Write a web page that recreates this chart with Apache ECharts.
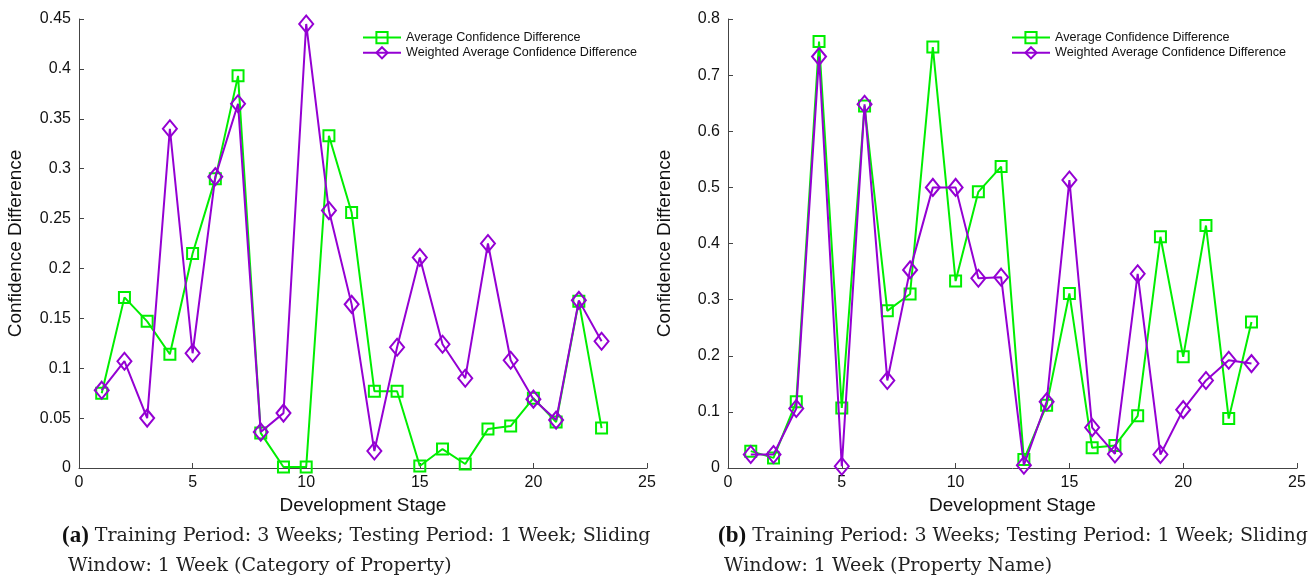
<!DOCTYPE html>
<html>
<head>
<meta charset="utf-8">
<script src="https://cdn.jsdelivr.net/npm/echarts@6/dist/echarts.min.js"></script>
<style>
html,body{margin:0;padding:0;background:#fff;}
#main{width:1309px;height:578px;}
</style>
</head>
<body>
<div id="main"></div>
<script>
// development stages 1..23
var stages = [1,2,3,4,5,6,7,8,9,10,11,12,13,14,15,16,17,18,19,20,21,22,23];

// (a) Category of Property
var avgA = [0.075,0.171,0.147,0.114,0.215,0.29,0.393,0.035,0.001,0.001,0.333,0.256,0.077,0.077,0.002,0.019,0.004,0.039,0.042,0.07,0.046,0.167,0.04];
var wavgA = [0.078,0.107,0.05,0.34,0.115,0.292,0.365,0.036,0.055,0.445,0.258,0.164,0.017,0.121,0.211,0.124,0.09,0.225,0.108,0.069,0.048,0.168,0.127];

// (b) Property Name
var avgB = [0.03,0.018,0.118,0.76,0.107,0.645,0.28,0.31,0.75,0.333,0.492,0.537,0.015,0.112,0.311,0.036,0.04,0.093,0.412,0.198,0.432,0.088,0.26];
var wavgB = [0.024,0.024,0.106,0.733,0.003,0.648,0.156,0.353,0.5,0.5,0.338,0.34,0.005,0.118,0.513,0.072,0.025,0.346,0.024,0.104,0.156,0.192,0.186];

var nameAvg = 'Average Confidence Difference';
var nameWavg = 'Weighted Average Confidence Difference';
var green = '#00ee00', purple = '#9400d3';
var sans = '"Liberation Sans", Arial, sans-serif';
var serif = '"DejaVu Serif", serif';

function pairs(ys){
	var out=[];
	for(var i=0;i<stages.length;i++) out.push([stages[i],ys[i]]);
	return out;
}

function xAx(idx){
	return {
		gridIndex: idx, type:'value', min:0, max:25, interval:5,
		name:'Development Stage', nameLocation:'middle', nameGap:27,
		nameTextStyle:{fontFamily:sans,fontSize:19,color:'#111'},
		axisLine:{lineStyle:{color:'#444',width:1}},
		axisTick:{inside:true,length:5,lineStyle:{color:'#444'}},
		axisLabel:{fontFamily:sans,fontSize:16,color:'#111',margin:7},
		splitLine:{show:false}
	};
}
function yAx(idx,max,step){
	return {
		gridIndex: idx, type:'value', min:0, max:max, interval:step,
		name:'Confidence Difference', nameLocation:'middle', nameGap:54,
		nameTextStyle:{fontFamily:sans,fontSize:19,color:'#111'},
		axisLine:{show:true,lineStyle:{color:'#444',width:1}},
		axisTick:{show:true,inside:true,length:5,lineStyle:{color:'#444'}},
		axisLabel:{fontFamily:sans,fontSize:16,color:'#111',margin:8},
		splitLine:{show:false}
	};
}
function avgSeries(idx,ys){
	return {
		name:nameAvg, type:'line', xAxisIndex:idx, yAxisIndex:idx, data:pairs(ys),
		symbol:'rect', symbolSize:11, showAllSymbol:true,
		lineStyle:{color:green,width:2},
		itemStyle:{color:'rgba(0,0,0,0)',borderColor:green,borderWidth:2},
		animation:false, z:2
	};
}
function wavgSeries(idx,ys){
	return {
		name:nameWavg, type:'line', xAxisIndex:idx, yAxisIndex:idx, data:pairs(ys),
		symbol:'diamond', symbolSize:[14,17], showAllSymbol:true,
		lineStyle:{color:purple,width:2},
		itemStyle:{color:'rgba(0,0,0,0)',borderColor:purple,borderWidth:2},
		animation:false, z:3
	};
}
function leg(left,top){
	return {
		left:left, top:top, orient:'vertical', itemGap:2, itemWidth:38, itemHeight:14,
		textStyle:{fontFamily:sans,fontSize:12.6,color:'#111'},
		data:[nameAvg,nameWavg]
	};
}

function caption(left,tag,line1,line2){
	return {type:'text',left:left,top:521,style:{
		text:'{b|'+tag+'} '+line1+'\n '+line2,
		rich:{b:{fontFamily:'"Liberation Serif", serif',fontWeight:'bold',fontSize:23,fill:'#111'}},
		fontFamily:serif,fontSize:19,lineHeight:30,fill:'#222'}};
}

var chart = echarts.init(document.getElementById('main'));
chart.setOption({
	backgroundColor:'#fff',
	animation:false,
	grid:[
		{left:79,right:662,top:19,bottom:110},
		{left:728,right:12,top:19,bottom:110}
	],
	legend:[leg(357,26),leg(1006,26)],
	xAxis:[xAx(0),xAx(1)],
	yAxis:[yAx(0,0.45,0.05),yAx(1,0.8,0.1)],
	series:[avgSeries(0,avgA),wavgSeries(0,wavgA),avgSeries(1,avgB),wavgSeries(1,wavgB)],
	graphic:[
		caption(62,'(a)','Training Period: 3 Weeks; Testing Period: 1 Week; Sliding','Window: 1 Week (Category of Property)'),
		caption(718,'(b)','Training Period: 3 Weeks; Testing Period: 1 Week; Sliding','Window: 1 Week (Property Name)')
	]
});
</script>
</body>
</html>
